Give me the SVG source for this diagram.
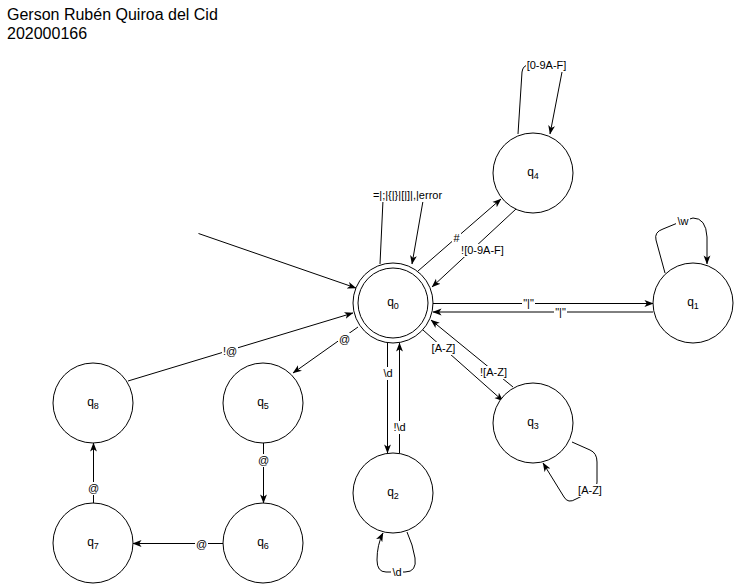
<svg xmlns="http://www.w3.org/2000/svg" width="737" height="587" viewBox="0 0 737 587">
  <style>
    .state { fill: #ffffff; stroke: #000000; stroke-width: 1; }
    .name { font-family: "Liberation Sans", Arial, Helvetica, sans-serif; font-size: 12px; fill: #000000; text-anchor: middle; }
    .sub { font-size: 9px; }
    .edge { fill: none; stroke: #000000; stroke-width: 1; marker-end: url(#arrow); }
    .edge-plain { fill: none; stroke: #000000; stroke-width: 1; }
    .lbl-bg { fill: #ffffff; }
    .lbl { font-family: "Liberation Sans", Arial, Helvetica, sans-serif; font-size: 11px; fill: #000000; text-anchor: middle; }
    .title { font-family: "Liberation Sans", Arial, Helvetica, sans-serif; font-size: 16px; fill: #000000; }
  </style>
  <defs>
    <marker id="arrow" viewBox="0 0 10 10" refX="9.5" refY="5" markerWidth="9" markerHeight="9" markerUnits="userSpaceOnUse" orient="auto">
      <path d="M0,1.2 L10,5 L0,8.8 L2.6,5 z" fill="#000000"/>
    </marker>
  </defs>

  <rect width="737" height="587" fill="#ffffff"/>

  <!-- author heading -->
  <g id="heading">
    <text class="title" x="7" y="20">Gerson Rubén Quiroa del Cid</text>
    <text class="title" x="7" y="39">202000166</text>
  </g>

  <!-- transitions -->
  <g id="connectors">
    <!-- start arrow -->
    <path class="edge" d="M198.5,233.5 L356,288"/>
    <!-- q0 self loop -->
    <path class="edge" d="M380,264 L383,200 Q383,195 388,195 L418,195 Q424,195 423,201 L412,264"/>
    <!-- q0 -> q4 -->
    <path class="edge" d="M418,271 L501,199"/>
    <!-- q4 -> q0 -->
    <path class="edge" d="M516,209 L432,287"/>
    <!-- q4 self loop -->
    <path class="edge" d="M518,134 L522,72 Q523,65 529,65 L558,65 Q564,65 562,72 L550,134"/>
    <!-- q0 -> q1 -->
    <path class="edge" d="M433,303.5 L653,303.5"/>
    <!-- q1 -> q0 -->
    <path class="edge" d="M653,312 L433,312"/>
    <!-- q1 self loop -->
    <path class="edge" d="M665,273 L656,240 Q654,232 663,229 L680,222 L693,218 Q706,218 707,237 L707,264"/>
    <!-- q0 -> q3 -->
    <path class="edge" d="M423,330 L503,401"/>
    <!-- q3 -> q0 -->
    <path class="edge" d="M513,387 L431,320"/>
    <!-- q3 self loop -->
    <path class="edge" d="M572,442 L590,450 Q597,453 597,462 L597,482 Q597,490 590,492 L576,499 Q568,504 564,497 L543,463"/>
    <!-- q0 -> q2 -->
    <path class="edge" d="M387.5,343 L387.5,453"/>
    <!-- q2 -> q0 -->
    <path class="edge" d="M399.5,453 L399.5,343"/>
    <!-- q2 self loop -->
    <path class="edge" d="M407,532 Q413,545 415,558 Q417,572 405,572 L386,572 Q377,572 377,560 Q377,545 383,533"/>
    <!-- q0 -> q5 -->
    <path class="edge" d="M358,327 L293,373"/>
    <!-- q8 -> q0 -->
    <path class="edge" d="M128,381 L353,313"/>
    <!-- q5 -> q6 -->
    <path class="edge" d="M263.5,443 L263.5,503"/>
    <!-- q6 -> q7 -->
    <path class="edge" d="M223,543.5 L133,543.5"/>
    <!-- q7 -> q8 -->
    <path class="edge" d="M93.5,503 L93.5,443"/>

    <!-- labels -->
    <rect class="lbl-bg" x="373" y="189" width="69" height="13"/>
    <text class="lbl" x="407.5" y="199">=|;|{|}|[|]|,|error</text>

    <rect class="lbl-bg" x="452" y="232" width="9" height="13"/>
    <text class="lbl" x="456.5" y="242">#</text>

    <rect class="lbl-bg" x="460" y="244" width="45" height="13"/>
    <text class="lbl" x="482.5" y="254">![0-9A-F]</text>

    <rect class="lbl-bg" x="526" y="59" width="41" height="13"/>
    <text class="lbl" x="546.5" y="69">[0-9A-F]</text>

    <rect class="lbl-bg" x="522" y="297" width="13" height="13"/>
    <text class="lbl" x="528.5" y="307">"|"</text>

    <rect class="lbl-bg" x="554" y="306" width="13" height="13"/>
    <text class="lbl" x="560.5" y="316">"|"</text>

    <rect class="lbl-bg" x="676" y="215" width="14" height="13"/>
    <text class="lbl" x="683" y="225">\w</text>

    <rect class="lbl-bg" x="431" y="342" width="25" height="13"/>
    <text class="lbl" x="443.5" y="352">[A-Z]</text>

    <rect class="lbl-bg" x="479" y="366" width="29" height="13"/>
    <text class="lbl" x="493.5" y="376">![A-Z]</text>

    <rect class="lbl-bg" x="577" y="484" width="26" height="13"/>
    <text class="lbl" x="590" y="494">[A-Z]</text>

    <rect class="lbl-bg" x="382" y="367" width="12" height="13"/>
    <text class="lbl" x="388" y="377">\d</text>

    <rect class="lbl-bg" x="392" y="421" width="15" height="13"/>
    <text class="lbl" x="399.5" y="431">!\d</text>

    <rect class="lbl-bg" x="391" y="566" width="12" height="13"/>
    <text class="lbl" x="397" y="576">\d</text>

    <rect class="lbl-bg" x="338" y="333" width="13" height="13"/>
    <text class="lbl" x="344.5" y="343">@</text>

    <rect class="lbl-bg" x="222" y="345" width="16" height="13"/>
    <text class="lbl" x="230" y="355">!@</text>

    <rect class="lbl-bg" x="257" y="454" width="13" height="13"/>
    <text class="lbl" x="263.5" y="464">@</text>

    <rect class="lbl-bg" x="195" y="538" width="13" height="13"/>
    <text class="lbl" x="201.5" y="548">@</text>

    <rect class="lbl-bg" x="87" y="482" width="13" height="13"/>
    <text class="lbl" x="93.5" y="492">@</text>
  </g>

  <!-- states -->
  <g id="q0">
    <circle class="state" cx="393" cy="303" r="40"/>
    <circle class="state" cx="393" cy="303" r="35"/>
    <text class="name" x="393" y="306">q<tspan class="sub" dy="3">0</tspan></text>
  </g>
  <g id="q1">
    <circle class="state" cx="693" cy="303" r="40"/>
    <text class="name" x="693" y="306">q<tspan class="sub" dy="3">1</tspan></text>
  </g>
  <g id="q2">
    <circle class="state" cx="393" cy="493" r="40"/>
    <text class="name" x="393" y="496">q<tspan class="sub" dy="3">2</tspan></text>
  </g>
  <g id="q3">
    <circle class="state" cx="533" cy="423" r="40"/>
    <text class="name" x="533" y="426">q<tspan class="sub" dy="3">3</tspan></text>
  </g>
  <g id="q4">
    <circle class="state" cx="533" cy="173" r="40"/>
    <text class="name" x="533" y="176">q<tspan class="sub" dy="3">4</tspan></text>
  </g>
  <g id="q5">
    <circle class="state" cx="263" cy="403" r="40"/>
    <text class="name" x="263" y="406">q<tspan class="sub" dy="3">5</tspan></text>
  </g>
  <g id="q6">
    <circle class="state" cx="263" cy="543" r="40"/>
    <text class="name" x="263" y="546">q<tspan class="sub" dy="3">6</tspan></text>
  </g>
  <g id="q7">
    <circle class="state" cx="93" cy="543" r="40"/>
    <text class="name" x="93" y="546">q<tspan class="sub" dy="3">7</tspan></text>
  </g>
  <g id="q8">
    <circle class="state" cx="93" cy="403" r="40"/>
    <text class="name" x="93" y="406">q<tspan class="sub" dy="3">8</tspan></text>
  </g>
</svg>
